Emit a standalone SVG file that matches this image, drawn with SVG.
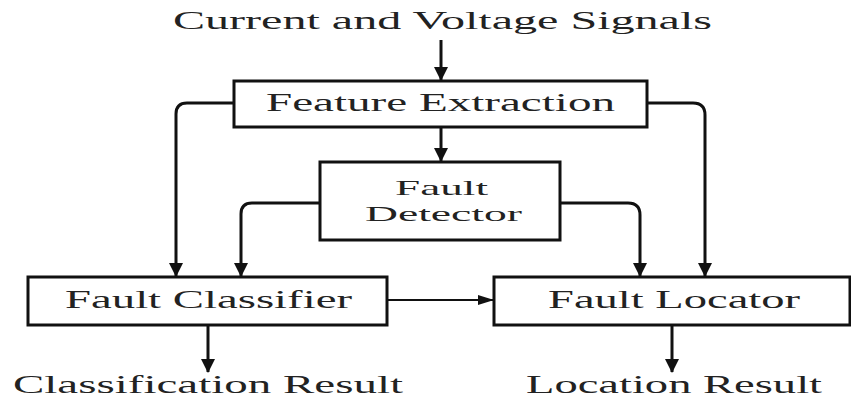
<svg xmlns="http://www.w3.org/2000/svg" width="851" height="400" viewBox="0 0 851 400">
<defs>
<style>
.box{fill:#fff;stroke:#111;stroke-width:3}
.lbl{font-family:"Liberation Serif","Times New Roman",serif;font-size:25px;fill:#222}
.sm{font-size:22px}
.con{fill:none;stroke:#111;stroke-width:3}
.thin{fill:none;stroke:#111;stroke-width:2}
</style>
<marker id="ah" markerUnits="userSpaceOnUse" markerWidth="16" markerHeight="14" refX="13" refY="7" orient="auto">
<path d="M0,0 L14,7 L0,14 Z" fill="#111"/>
</marker>
<marker id="ahs" markerUnits="userSpaceOnUse" markerWidth="16" markerHeight="12" refX="15" refY="5" orient="auto">
<path d="M0,0 L16,5 L0,10 Z" fill="#111"/>
</marker>
</defs>
<rect width="851" height="400" fill="#fff"/>
<text class="lbl" x="173" y="29" textLength="539" lengthAdjust="spacingAndGlyphs">Current and Voltage Signals</text>
<g id="feature-extraction">
<rect class="box" x="234" y="81" width="413" height="46"/>
<text class="lbl" x="266" y="111" textLength="349" lengthAdjust="spacingAndGlyphs">Feature Extraction</text>
</g>
<g id="fault-detector">
<rect class="box" x="320" y="162" width="240" height="78"/>
<text class="lbl sm" x="395" y="195" textLength="93" lengthAdjust="spacingAndGlyphs">Fault</text>
<text class="lbl sm" x="365" y="221" textLength="157" lengthAdjust="spacingAndGlyphs">Detector</text>
</g>
<g id="fault-classifier">
<rect class="box" x="28" y="277" width="359" height="48"/>
<text class="lbl" x="65" y="308" textLength="287" lengthAdjust="spacingAndGlyphs">Fault Classifier</text>
</g>
<g id="fault-locator">
<rect class="box" x="494" y="277" width="356" height="48"/>
<text class="lbl" x="548" y="308" textLength="252" lengthAdjust="spacingAndGlyphs">Fault Locator</text>
</g>
<text class="lbl" x="13" y="393" textLength="390" lengthAdjust="spacingAndGlyphs">Classification Result</text>
<text class="lbl" x="526" y="393" textLength="296" lengthAdjust="spacingAndGlyphs">Location Result</text>
<g id="connectors">
<path class="con" d="M441,40 V80" marker-end="url(#ah)"/>
<path class="con" d="M441,127 V161" marker-end="url(#ah)"/>
<path class="con" d="M234,103 H187 Q176,103 176,114 V276" marker-end="url(#ah)"/>
<path class="con" d="M320,203 H252 Q241,203 241,214 V276" marker-end="url(#ah)"/>
<path class="con" d="M560,203 H628 Q640,203 640,215 V276" marker-end="url(#ah)"/>
<path class="con" d="M647,103 H693 Q705,103 705,115 V276" marker-end="url(#ah)"/>
<path class="thin" d="M387,300 H493" marker-end="url(#ahs)"/>
<path class="con" d="M208,325 V372" marker-end="url(#ah)"/>
<path class="con" d="M672,325 V372" marker-end="url(#ah)"/>
</g>
</svg>
